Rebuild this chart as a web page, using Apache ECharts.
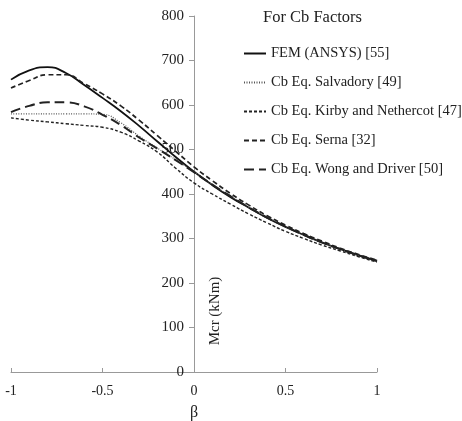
<!DOCTYPE html>
<html>
<head>
<meta charset="utf-8">
<script src="https://cdn.jsdelivr.net/npm/echarts@6/dist/echarts.min.js"></script>
<style>
  html, body { margin: 0; padding: 0; background: #fff; }
  #chart { width: 462px; height: 421px; }
</style>
</head>
<body>
<div id="chart"></div>
<script>
// beta values (x) shared by every curve
const betaValues = [-1, -0.9, -0.8, -0.7, -0.6, -0.5, -0.4, -0.3, -0.2, -0.1, 0,
  0.1, 0.2, 0.3, 0.4, 0.5, 0.6, 0.7, 0.8, 0.9, 1]

const femAnsys = [657, 678, 685, 672, 645, 616, 586, 553, 518, 483, 450,
  420, 393, 369, 346, 326, 308, 291, 276, 262, 249]
const salvadory = [580, 580, 580, 580, 580, 579, 560, 530, 503, 477, 450,
  421, 395, 370, 347, 327, 308, 291, 276, 262, 251]
const kirby = [571, 566, 562, 558, 554, 550, 539, 519, 494, 458, 425,
  400, 377, 355, 335, 316, 300, 285, 272, 259, 247]
const serna = [638, 655, 668, 668, 648, 625, 598, 566, 531, 496, 461,
  430, 401, 375, 351, 330, 311, 294, 278, 264, 251]
const wong = [584, 598, 606, 606, 597, 578, 555, 527, 502, 476, 449,
  421, 395, 370, 347, 327, 308, 291, 276, 262, 250]

const xTicks = ['-1', '-0.5', '0', '0.5', '1']

const font = '"Liberation Serif", "DejaVu Serif", serif'

function pairs(ys) {
  return betaValues.map((b, i) => [b, ys[i]])
}

function line(name, ys, type, width, color) {
  return {
    name: name,
    type: 'line',
    smooth: true,
    symbol: 'none',
    data: pairs(ys),
    lineStyle: { color: color, width: width, type: type },
    itemStyle: { color: color }
  }
}

const chart = echarts.init(document.getElementById('chart'))

chart.setOption({
  animation: false,
  textStyle: { fontFamily: font },
  title: {
    text: 'For Cb Factors',
    left: 258,
    top: 4,
    textStyle: { fontFamily: font, fontSize: 16.5, fontWeight: 'normal', color: '#222' }
  },
  legend: {
    orient: 'vertical',
    left: 238,
    top: 41,
    itemWidth: 22,
    itemHeight: 14,
    itemGap: 14,
    itemStyle: { opacity: 0 },
    textStyle: { fontFamily: font, fontSize: 14.5, color: '#222' },
    data: [
      'FEM (ANSYS) [55]',
      'Cb Eq. Salvadory [49]',
      'Cb Eq. Kirby and Nethercot [47]',
      'Cb Eq. Serna [32]',
      'Cb Eq. Wong and Driver [50]'
    ]
  },
  grid: {
    left: 11,
    right: 85,
    top: 16,
    bottom: 49,
    outerBoundsMode: 'none'
  },
  xAxis: {
    type: 'value',
    min: -1,
    max: 1,
    interval: 0.5,
    name: 'β',
    nameLocation: 'middle',
    nameGap: 33,
    nameTextStyle: { fontFamily: font, fontSize: 16, color: '#222' },
    axisLine: { lineStyle: { color: '#999' } },
    axisTick: { inside: true, length: 4, lineStyle: { color: '#999' } },
    axisLabel: {
      margin: 12,
      fontFamily: font,
      fontSize: 14,
      color: '#222',
      formatter: (v) => xTicks[Math.round((v + 1) / 0.5)]
    },
    splitLine: { show: false }
  },
  yAxis: {
    type: 'value',
    min: 0,
    max: 800,
    interval: 100,
    position: 'left',
    offset: -183,
    axisLine: { show: true, onZero: false, lineStyle: { color: '#999' } },
    axisTick: { show: true, length: 5, lineStyle: { color: '#999' } },
    axisLabel: { margin: 10, fontFamily: font, fontSize: 15, color: '#222' },
    splitLine: { show: false }
  },
  graphic: [
    {
      type: 'text',
      x: 215,
      y: 311,
      rotation: Math.PI / 2,
      style: {
        text: 'Mcr (kNm)',
        font: '15px ' + font,
        fill: '#222',
        align: 'center',
        verticalAlign: 'middle'
      }
    }
  ],
  series: [
    line('FEM (ANSYS) [55]', femAnsys, 'solid', 1.8, '#111'),
    line('Cb Eq. Salvadory [49]', salvadory, [1, 1.5], 1.2, '#555'),
    line('Cb Eq. Kirby and Nethercot [47]', kirby, [3, 2], 1.4, '#222'),
    line('Cb Eq. Serna [32]', serna, [5, 3], 1.7, '#222'),
    line('Cb Eq. Wong and Driver [50]', wong, [10, 5], 2, '#222')
  ]
})
</script>
</body>
</html>
